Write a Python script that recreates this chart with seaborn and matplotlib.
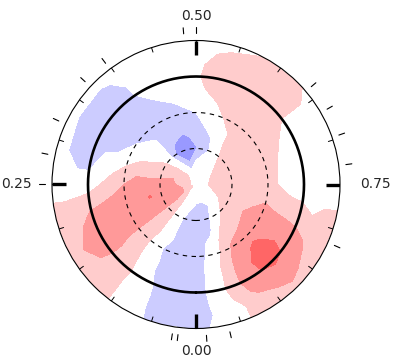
import numpy as np
import seaborn as sns
import matplotlib.pyplot as plt

sns.set_style("white")
plt.rcParams["font.family"] = ["DejaVu Sans"]

# surface map: rows = rotation phase (0, 1/24, ...), columns = latitude 90 .. -30
phase_grid = np.arange(24) / 24
lat_grid = np.arange(90, -31, -10)
surface = np.array([
    [0, 0.0, -0.8, -1.0, -1.0, -1.0, -1.0, -1.0, -1.0, -1.0, -1.0, -1.0, -0.8],
    [0, 0.0, -0.3, -0.8, -1.0, -1.0, -1.0, -1.0, -1.0, -1.0, -1.0, -1.0, -0.9],
    [0, 0.2, 0.0, 0.0, 0.0, 0.0, -0.4, -0.3, -0.3, -0.1, 0.0, 0.0, 0.0],
    [0, 0.6, 1.0, 1.0, 1.0, 1.0, 1.0, 1.0, 1.2, 1.2, 1.0, 1.0, 1.0],
    [0, 1.4, 2.0, 2.0, 2.0, 2.0, 2.0, 2.0, 2.0, 2.0, 2.0, 1.4, 1.0],
    [0, 1.4, 2.0, 2.3, 2.55, 2.0, 2.0, 2.0, 1.8, 1.6, 1.2, 1.0, 1.0],
    [0, 1.0, 1.7, 2.0, 2.0, 2.0, 1.5, 1.0, 0.5, 0.0, 0.0, 0.0, 0.0],
    [0, 1.0, 1.5, 1.2, 1.0, 1.0, 0.5, 0.0, -0.3, -1.0, -1.0, -0.5, 0.0],
    [0, 0.9, 1.0, 0.8, 0.4, 0.0, -0.3, -1.0, -1.0, -1.0, -1.0, -0.7, 0.0],
    [0, 0.6, 0.3, 0.0, -0.3, -0.4, -1.0, -1.0, -1.0, -1.0, -1.0, -0.7, 0.0],
    [0, 0.3, -0.6, -2.0, -1.3, -1.0, -1.0, -1.0, -0.6, -0.3, -0.2, 0.0, 0.0],
    [0, 0.0, -1.6, -2.0, -1.8, -1.0, -1.0, -0.5, 0.0, 0.0, 0.0, 0.0, 0.0],
    [0, 0.0, -0.5, -1.6, -1.2, -1.0, -0.5, 0.0, 0.2, 0.4, 0.3, 0.0, 0.0],
    [0, 0.0, 0.0, -0.8, -0.7, 0.0, 0.0, 0.5, 1.0, 1.0, 1.0, 0.8, 0.0],
    [0, 0.2, 0.0, 0.0, 0.3, 0.4, 1.0, 1.0, 1.0, 1.0, 1.0, 1.0, 0.6],
    [0, 0.2, 0.4, 0.8, 1.0, 1.0, 1.0, 1.0, 1.0, 1.0, 1.0, 1.0, 0.6],
    [0, 0.3, 0.8, 1.0, 1.0, 1.0, 1.0, 1.0, 0.5, 0.0, 0.0, 0.0, 0.0],
    [0, 0.4, 1.0, 1.0, 1.0, 1.0, 1.0, 0.5, 0.0, 0.0, 0.0, 0.0, 0.0],
    [0, 0.5, 1.0, 1.0, 1.0, 1.0, 1.0, 0.4, 0.0, 0.0, 0.0, 0.0, 0.0],
    [0, 0.2, 1.0, 1.0, 1.0, 1.3, 1.5, 1.3, 1.0, 0.8, 0.5, 0.7, 0.7],
    [0, 0.0, 0.4, 1.0, 1.3, 1.7, 2.0, 2.0, 2.2, 2.1, 1.7, 1.0, 1.0],
    [0, 0.0, 0.0, 0.6, 1.0, 1.5, 2.0, 2.7, 3.0, 2.8, 2.0, 1.8, 1.0],
    [0, 0.0, -0.5, 0.0, 0.5, 1.2, 1.6, 2.0, 2.2, 2.2, 1.8, 1.0, 1.0],
    [0, 0.0, -1.0, -1.0, -0.8, -0.2, 0.0, 0.3, 0.3, 0.4, 0.2, 0.0, 0.0],
])

levels = [-2.5, -1.5, -0.5, 0.5, 1.5, 2.5, 3.5]
level_colors = sns.color_palette(["#9999ff", "#ccccff", "#ffffff",
                                  "#ffcccc", "#ff9999", "#ff6666"])

major_phases = [0.0, 0.25, 0.5, 0.75]
major_labels = ["0.00", "0.25", "0.50", "0.75"]
obs_phases = [0.964, 0.989, 0.019, 0.025, 0.25, 0.282, 0.319, 0.369,
              0.398, 0.487, 0.50, 0.638, 0.667, 0.697, 0.729, 0.816]

fig = plt.figure(figsize=(4.18, 3.58), dpi=100)
ax = fig.add_axes([52 / 418, 29.5 / 358, 288 / 418, 288 / 358], projection="polar")
ax.set_theta_zero_location("S")
ax.set_theta_direction(-1)

# radius = colatitude, so the pole sits in the middle
theta = 2 * np.pi * np.append(phase_grid, 1.0)
radius = 90 - lat_grid
z = np.vstack([surface, surface[:1]])
T, R = np.meshgrid(theta, radius, indexing="ij")
ax.contourf(T, R, z, levels=levels, colors=level_colors)

circ = np.linspace(0, 2 * np.pi, 361)
for rr in (30, 60):
    ax.plot(circ, np.full_like(circ, rr), color="k", lw=0.8, ls=(0, (4, 4)))
ax.plot(circ, np.full_like(circ, 90), color="k", lw=1.9)

for p in np.arange(0, 1, 0.05):
    ax.plot([2 * np.pi * p] * 2, [116, 120], color="k", lw=0.7)
for p in major_phases:
    ax.plot([2 * np.pi * p] * 2, [108, 120], color="k", lw=2.4,
            solid_capstyle="butt")
for p in obs_phases:
    ax.plot([2 * np.pi * p] * 2, [126, 131], color="k", lw=0.8, clip_on=False)

label_pos = {
    "0.00": dict(r=133, ha="center", va="top"),
    "0.25": dict(r=137, ha="right", va="center"),
    "0.50": dict(r=136.7, ha="center", va="baseline"),
    "0.75": dict(r=137, ha="left", va="center"),
}
for p, lab in zip(major_phases, major_labels):
    pos = label_pos[lab]
    ax.text(2 * np.pi * p, pos["r"], lab, ha=pos["ha"], va=pos["va"],
            fontsize=10, clip_on=False)

ax.set_ylim(0, 120)
ax.set_xticks([])
ax.set_yticks([])
ax.grid(False)
ax.spines["polar"].set_linewidth(0.8)
ax.spines["polar"].set_color("k")

fig.savefig("out.png", dpi=100, facecolor="white")
